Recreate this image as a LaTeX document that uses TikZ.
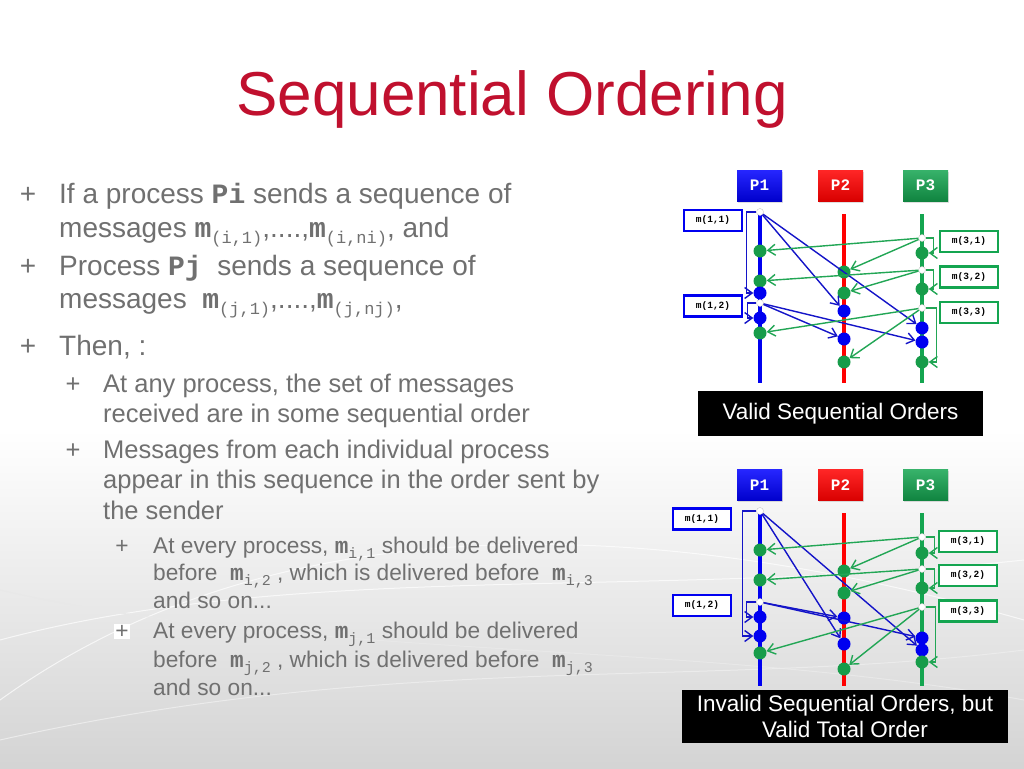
\documentclass[tikz,border=0pt]{standalone}
\usepackage{fontspec}
\setmainfont{Liberation Sans}
\setmonofont{Liberation Mono}
\usetikzlibrary{arrows.meta,shadows}
\definecolor{titlered}{HTML}{C0102E}
\definecolor{txtgray}{HTML}{707070}
\definecolor{pblue}{HTML}{0000F0}
\definecolor{pred}{HTML}{FF0000}
\definecolor{pgreen}{HTML}{14A550}
\definecolor{evgreen}{HTML}{179C4A}
\definecolor{arblue}{HTML}{1414C8}
\definecolor{argreen}{HTML}{22A655}
\newcommand\Lone{\fontsize{28}{34}\selectfont}
\newcommand\Ltwo{\fontsize{25.5}{30}\selectfont}
\newcommand\Lthree{\fontsize{22.7}{28}\selectfont}
\newcommand\mA[1]{\texttt{\textbf{m}}\raisebox{-6pt}{\fontsize{17}{17}\selectfont\ttfamily #1}}
\newcommand\mC[1]{\texttt{\textbf{m}}\raisebox{-5pt}{\fontsize{15}{15}\selectfont\ttfamily #1}}
\begin{document}
\begin{tikzpicture}[x=1pt,y=-1pt,
  txt/.style={anchor=base west, inner sep=0pt, text=txtgray},
  bul/.style={anchor=base, inner sep=0pt, text=txtgray},
  procb/.style={minimum width=45pt, minimum height=31pt, inner sep=0pt, text=white,
     font=\fontsize{16}{16}\selectfont\ttfamily\bfseries, drop shadow={opacity=0.25, shadow xshift=1pt, shadow yshift=-1.5pt}},
  msgb/.style={draw, line width=2.8pt, fill=white, minimum width=58pt, minimum height=21pt,
     inner sep=0pt, font=\fontsize{9.5}{9.5}\selectfont\ttfamily\bfseries},
  ev/.style={circle, minimum size=13pt, inner sep=0pt},
  evg/.style={ev, fill=evgreen},
  evb/.style={ev, fill=pblue},
  snd/.style={circle, minimum size=7pt, inner sep=0pt, fill=white, draw=gray!45, line width=0.4pt},
  bar/.style={line width=3.6pt},
  marr/.style={line width=1.4pt, -{Straight Barb[length=7.5pt,width=11pt]}},
  capbox/.style={fill=black, text=white, inner sep=0pt, align=center, font=\fontsize{22.5}{26}\selectfont}
]
\useasboundingbox (0,0) rectangle (1024,768);
% background
\fill[white] (0,0) rectangle (1024,768);
\shade[top color=white, bottom color=black!17] (0,430) rectangle (1024,768);
\begin{scope}[line width=1pt]
\draw[white, opacity=0.7] (0,700) .. controls (250,520) and (600,500) .. (1024,620);
\draw[white, opacity=0.7] (0,640) .. controls (300,560) and (650,600) .. (1024,560);
\draw[black!9] (0,590) .. controls (300,660) and (700,640) .. (1024,700);
\draw[black!8] (0,740) .. controls (400,650) and (700,690) .. (1024,650);
\end{scope}

% title
\node[anchor=base, inner sep=0pt, text=titlered, font=\fontsize{62}{62}\selectfont] (title) at (512,115) {Sequential Ordering};

% left text
\node[bul, font=\Lone] (b1) at (28,203) {+};
\node[txt, font=\Lone] (l1a) at (59,203) {If a process \texttt{\textbf{Pi}} sends a sequence of};
\node[txt, font=\Lone] (l1b) at (59,237) {messages \mA{(i,1)},....,\mA{(i,ni)}, and};
\node[bul, font=\Lone] (b2) at (28,275) {+};
\node[txt, font=\Lone] (l2a) at (59,275) {Process \texttt{\textbf{Pj}}\ \ sends a sequence of};
\node[txt, font=\Lone] (l2b) at (59,308) {messages\ \ \mA{(j,1)},....,\mA{(j,nj)},};
\node[bul, font=\Lone] (b3) at (28,355) {+};
\node[txt, font=\Lone] (l3a) at (59,355) {Then, :};

\node[bul, font=\Ltwo] (b4) at (73,392) {+};
\node[txt, font=\Ltwo] (l4a) at (103,392) {At any process, the set of messages};
\node[txt, font=\Ltwo] (l4b) at (103,422) {received are in some sequential order};
\node[bul, font=\Ltwo] (b5) at (73,458) {+};
\node[txt, font=\Ltwo] (l5a) at (103,458) {Messages from each individual process};
\node[txt, font=\Ltwo] (l5b) at (103,488) {appear in this sequence in the order sent by};
\node[txt, font=\Ltwo] (l5c) at (103,519) {the sender};

\node[bul, font=\Lthree] (b6) at (122,553) {+};
\node[txt, font=\Lthree] (l6a) at (153,553) {At every process, \mC{i,1} should be delivered};
\node[txt, font=\Lthree] (l6b) at (153,580) {before\ \ \mC{i,2} , which is delivered before\ \ \mC{i,3}};
\node[txt, font=\Lthree] (l6c) at (153,608) {and so on...};
\node[bul, font=\Lthree, fill=white, inner sep=1pt] (b7) at (122,638) {+};
\node[txt, font=\Lthree] (l7a) at (153,638) {At every process, \mC{j,1} should be delivered};
\node[txt, font=\Lthree] (l7b) at (153,667) {before\ \ \mC{j,2} , which is delivered before\ \ \mC{j,3}};
\node[txt, font=\Lthree] (l7c) at (153,695) {and so on...};

% ================= TOP DIAGRAM =================
\node[procb, top color=blue!85!white, bottom color=blue!80!black] (aP1) at (759.5,185.5) {P1};
\node[procb, top color=red!85!white, bottom color=red!85!black] (aP2) at (840.5,185.5) {P2};
\node[procb, top color=pgreen!85!white, bottom color=pgreen!80!black] (aP3) at (925.5,185.5) {P3};

\coordinate (a1t) at (760,212); \coordinate (a1b) at (760,383);
\coordinate (a2t) at (844,214); \coordinate (a2b) at (844,383);
\coordinate (a3t) at (922,214); \coordinate (a3b) at (922,383);
\draw[bar, pblue] (a1t) -- (a1b);
\draw[bar, pred] (a2t) -- (a2b);
\draw[bar, pgreen] (a3t) -- (a3b);

\node[msgb, draw=pblue] (am11) at (713,220.5) {m(1,1)};
\node[msgb, draw=pblue] (am12) at (713,306) {m(1,2)};
\node[msgb, draw=pgreen] (am31) at (969,241.5) {m(3,1)};
\node[msgb, draw=pgreen] (am32) at (969,277) {m(3,2)};
\node[msgb, draw=pgreen] (am33) at (969,312.5) {m(3,3)};

\node[evg] (aG1a) at (760,251) {};
\node[evg] (aG1b) at (760,281) {};
\node[evb] (aB1a) at (760,293) {};
\node[evb] (aB1b) at (760,318) {};
\node[evg] (aG1c) at (760,333) {};
\node[evg] (aG2a) at (844,272) {};
\node[evg] (aG2b) at (844,293) {};
\node[evb] (aB2a) at (844,311) {};
\node[evb] (aB2b) at (844,339) {};
\node[evg] (aG2c) at (844,362) {};
\node[evg] (aG3a) at (922,253) {};
\node[evg] (aG3b) at (922,289) {};
\node[evb] (aB3a) at (922,328) {};
\node[evb] (aB3b) at (922,342) {};
\node[evg] (aG3c) at (922,362) {};
\node[snd] (aS11) at (760,212) {};
\node[snd] (aS12) at (760,303) {};
\node[snd] (aS31) at (922,238) {};
\node[snd] (aS32) at (922,270) {};
\node[snd] (aS33) at (922,308) {};

\begin{scope}[marr, arblue]
\draw (aS11) -- (aB2a);
\draw (aS11) -- (aB3a);
\draw (aS11.west) -- ++(-10pt,0) |- (aB1a.west);
\draw (aS12) -- (aB2b);
\draw (aS12) -- (aB3b);
\draw (aS12.west) -- ++(-9pt,0) |- (aB1b.west);
\end{scope}
\begin{scope}[marr, argreen]
\draw (aS31) -- (aG1a);
\draw (aS31) -- (aG2a);
\draw (aS31.east) -- ++(8pt,0) |- (aG3a.east);
\draw (aS32) -- (aG1b);
\draw (aS32) -- (aG2b);
\draw (aS32.east) -- ++(8pt,0) |- (aG3b.east);
\draw (aS33) -- (aG1c);
\draw (aS33) -- (aG2c);
\draw (aS33.east) -- ++(11pt,0) |- (aG3c.east);
\end{scope}

\node[capbox, minimum width=285pt, minimum height=45pt] (acap) at (840.5,413.5) {Valid Sequential Orders};

% ================= BOTTOM DIAGRAM =================
\node[procb, top color=blue!85!white, bottom color=blue!80!black] (bP1) at (759.5,485) {P1};
\node[procb, top color=red!85!white, bottom color=red!85!black] (bP2) at (840.5,485) {P2};
\node[procb, top color=pgreen!85!white, bottom color=pgreen!80!black] (bP3) at (925.5,485) {P3};

\coordinate (b1t) at (760,511); \coordinate (b1b) at (760,686);
\coordinate (b2t) at (844,513); \coordinate (b2b) at (844,686);
\coordinate (b3t) at (922,513); \coordinate (b3b) at (922,686);
\draw[bar, pblue] (b1t) -- (b1b);
\draw[bar, pred] (b2t) -- (b2b);
\draw[bar, pgreen] (b3t) -- (b3b);

\node[msgb, draw=pblue] (bm11) at (702,519) {m(1,1)};
\node[msgb, draw=pblue] (bm12) at (702,605.5) {m(1,2)};
\node[msgb, draw=pgreen] (bm31) at (968,541.5) {m(3,1)};
\node[msgb, draw=pgreen] (bm32) at (968,575.5) {m(3,2)};
\node[msgb, draw=pgreen] (bm33) at (968,611) {m(3,3)};

\node[evg] (bG1a) at (760,550) {};
\node[evg] (bG1b) at (760,580) {};
\node[evb] (bB1a) at (760,617) {};
\node[evb] (bB1b) at (760,636) {};
\node[evg] (bG1c) at (760,653) {};
\node[evg] (bG2a) at (844,571) {};
\node[evg] (bG2b) at (844,593) {};
\node[evb] (bB2a) at (844,618) {};
\node[evb] (bB2b) at (844,644) {};
\node[evg] (bG2c) at (844,669) {};
\node[evg] (bG3a) at (922,553) {};
\node[evg] (bG3b) at (922,588) {};
\node[evb] (bB3a) at (922,638) {};
\node[evb] (bB3b) at (922,650) {};
\node[evg] (bG3c) at (922,662) {};
\node[snd] (bS11) at (760,511) {};
\node[snd] (bS12) at (760,602) {};
\node[snd] (bS31) at (922,537) {};
\node[snd] (bS32) at (922,569) {};
\node[snd] (bS33) at (922,607) {};

\begin{scope}[marr, arblue]
\draw (bS11) -- (bB2b);
\draw (bS11) -- (bB3b);
\draw (bS11.west) -- ++(-14pt,0) |- (bB1b.west);
\draw (bS12) -- (bB2a);
\draw (bS12) -- (bB3a);
\draw (bS12.west) -- ++(-10pt,0) |- (bB1a.west);
\end{scope}
\begin{scope}[marr, argreen]
\draw (bS31) -- (bG1a);
\draw (bS31) -- (bG2a);
\draw (bS31.east) -- ++(9pt,0) |- (bG3a.east);
\draw (bS32) -- (bG1b);
\draw (bS32) -- (bG2b);
\draw (bS32.east) -- ++(9pt,0) |- (bG3b.east);
\draw (bS33) -- (bG1c);
\draw (bS33) -- (bG2c);
\draw (bS33.east) -- ++(10pt,0) |- (bG3c.east);
\end{scope}

\node[capbox, minimum width=326pt, minimum height=53pt] (bcap) at (845,716.5) {Invalid Sequential Orders, but\\Valid Total Order};
\end{tikzpicture}
\end{document}
